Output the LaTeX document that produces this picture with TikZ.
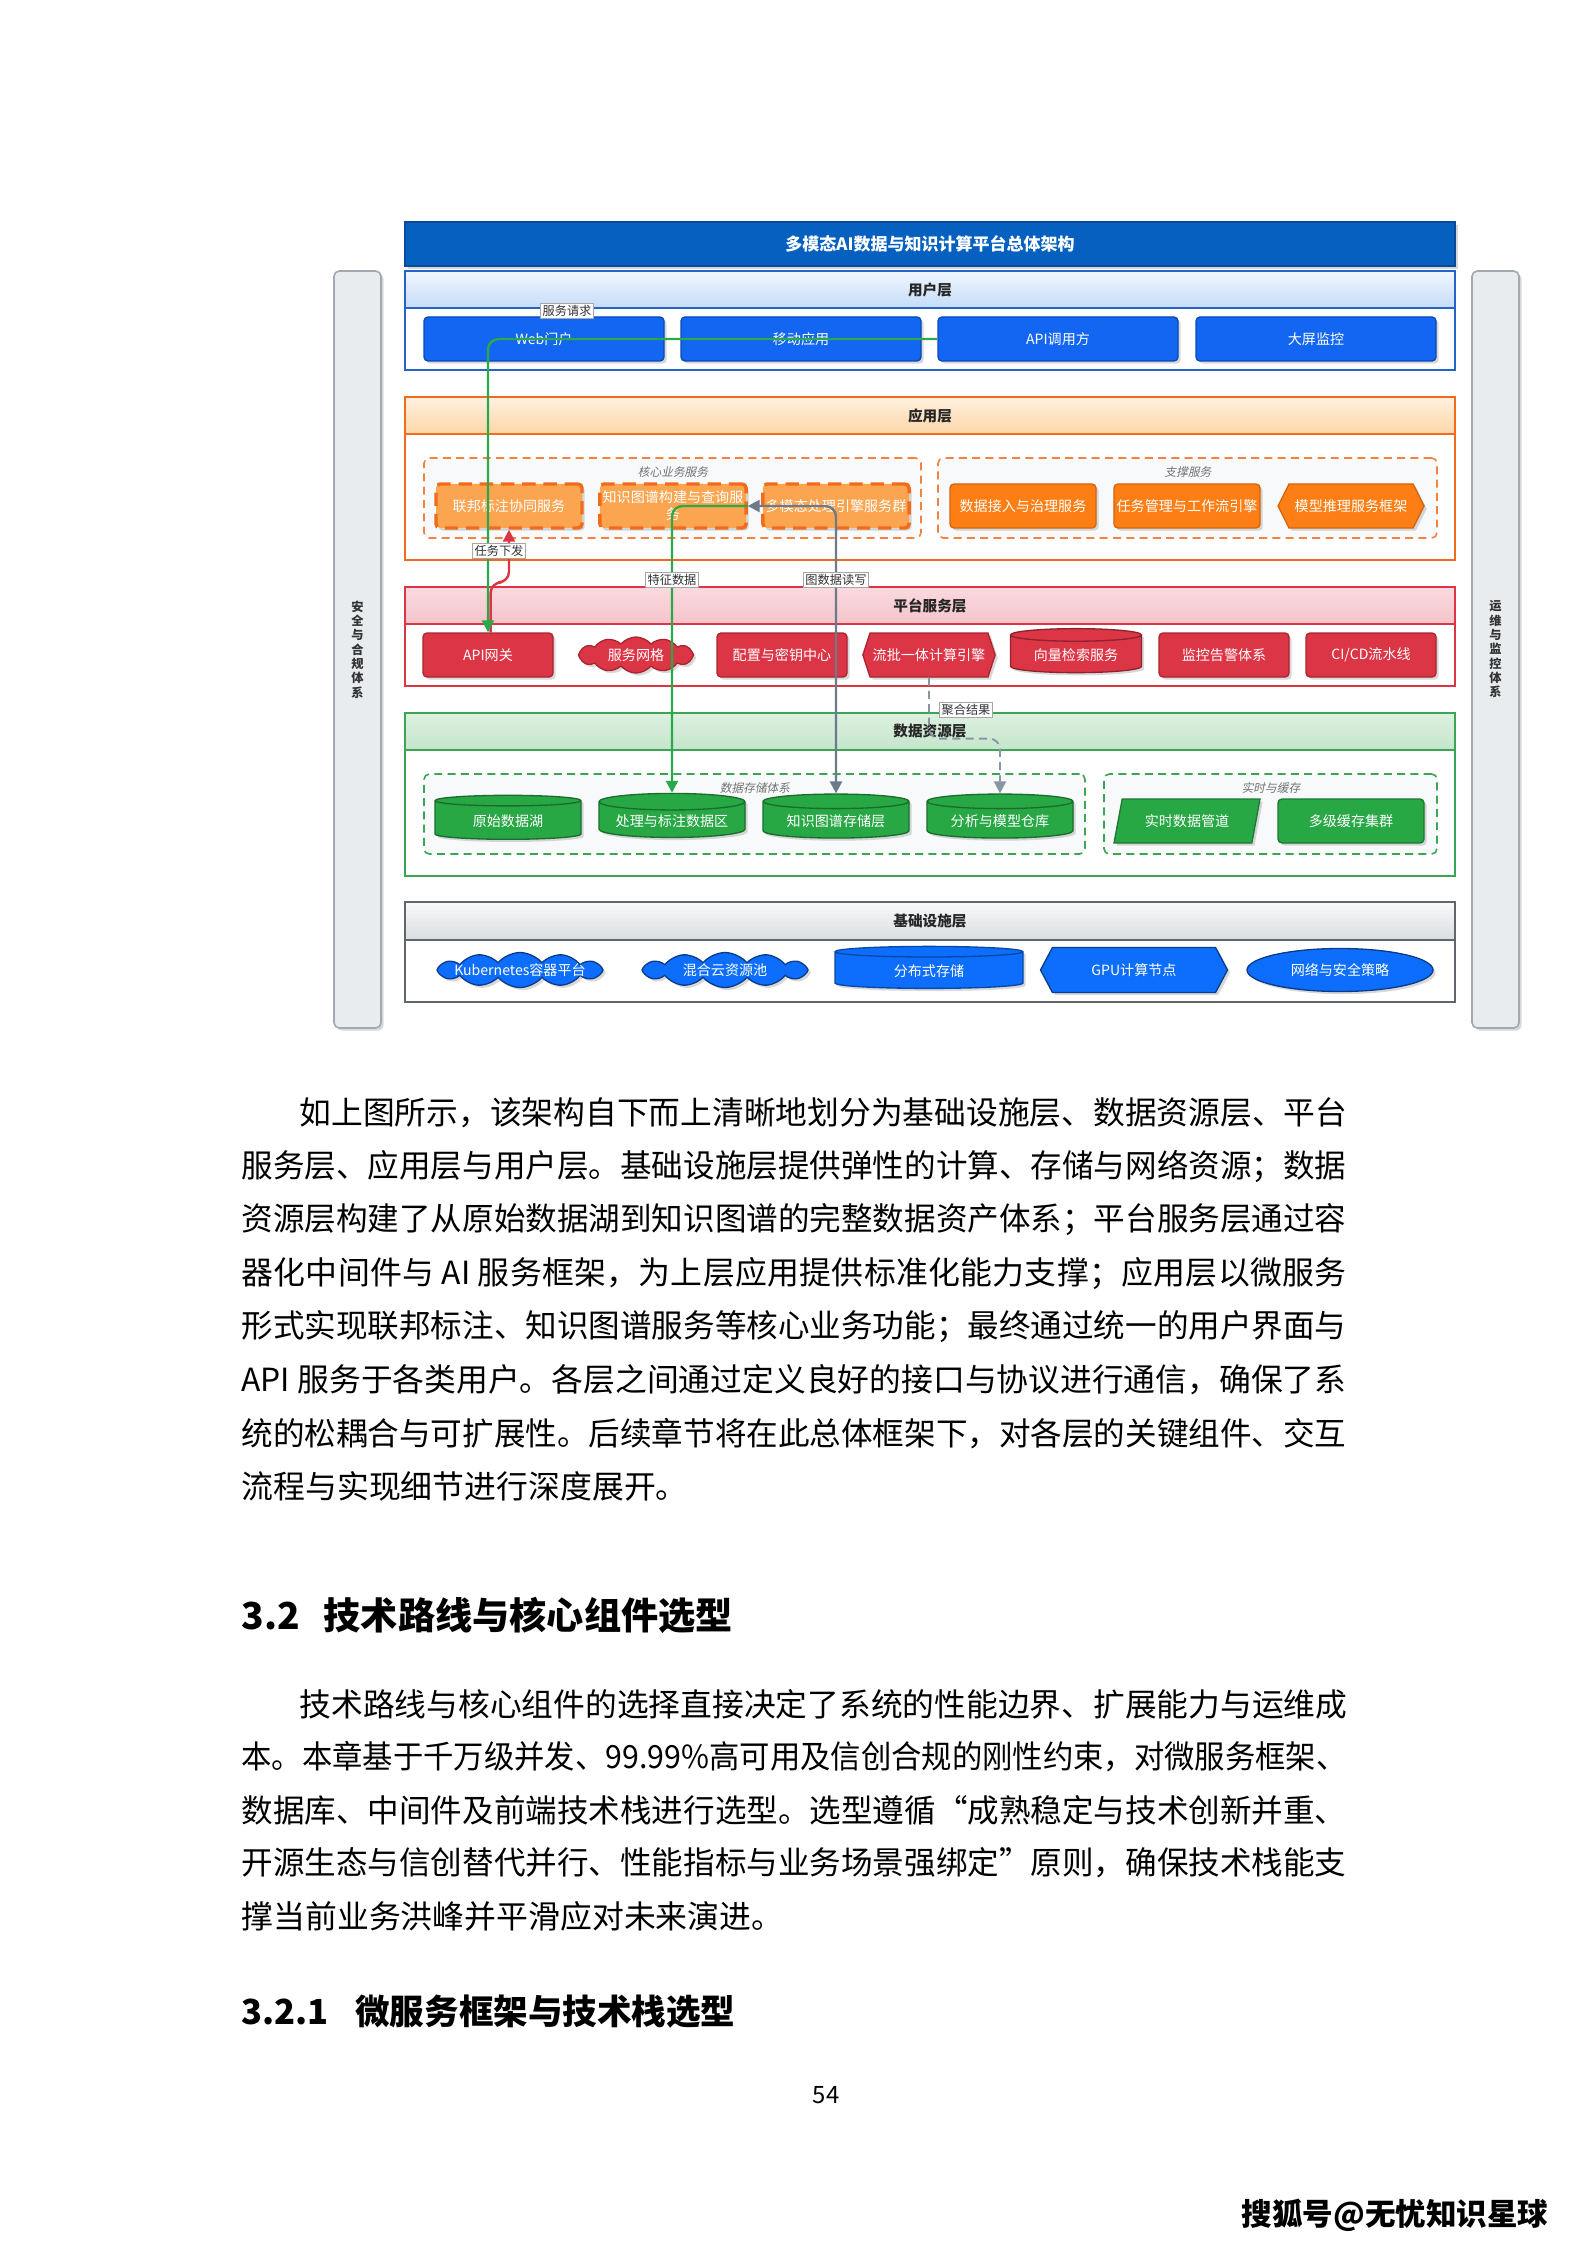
\documentclass[tikz,border=0pt]{standalone}
\usepackage{fontspec}
\setmainfont{Noto Sans CJK SC}
\newfontfamily\grpfont[FakeSlant=0.2]{Noto Sans CJK SC}
\usepackage{xcolor}
\usepackage{graphicx}
\usetikzlibrary{arrows.meta,positioning,shapes.geometric,shapes.symbols,shadows,calc}

\definecolor{archNavy}{HTML}{0560C0}
\definecolor{archNavyDk}{HTML}{0B4A96}
\definecolor{userTop}{HTML}{EFF6FF}
\definecolor{userBot}{HTML}{C6DCF8}
\definecolor{userLine}{HTML}{2563C7}
\definecolor{userBtn}{HTML}{1266F1}
\definecolor{userBtnDk}{HTML}{0A4AB8}
\definecolor{appTop}{HTML}{FFF1E0}
\definecolor{appBot}{HTML}{FDD6A8}
\definecolor{appLine}{HTML}{F26B1D}
\definecolor{appCore}{HTML}{FBA550}
\definecolor{appSup}{HTML}{FD7E14}
\definecolor{appSupDk}{HTML}{D5640C}
\definecolor{platTop}{HTML}{FADADF}
\definecolor{platBot}{HTML}{F4C4CA}
\definecolor{platRed}{HTML}{DC3545}
\definecolor{platRedDk}{HTML}{A82530}
\definecolor{dataTop}{HTML}{DDF1E1}
\definecolor{dataBot}{HTML}{C4E5CB}
\definecolor{dataLine}{HTML}{3AA655}
\definecolor{dataGreen}{HTML}{28A745}
\definecolor{dataGreenDk}{HTML}{1C7A33}
\definecolor{infraTop}{HTML}{F8F9FA}
\definecolor{infraBot}{HTML}{DADDE1}
\definecolor{infraLine}{HTML}{5F666D}
\definecolor{infraBlue}{HTML}{0D6EFD}
\definecolor{infraBlueDk}{HTML}{0A3C8C}
\definecolor{sideFill}{HTML}{E9ECEF}
\definecolor{sideLine}{HTML}{A3A9B0}
\definecolor{grpFill}{HTML}{F8F9FA}
\definecolor{flowGreen}{HTML}{2BA84A}
\definecolor{flowRed}{HTML}{DC3545}
\definecolor{flowGray}{HTML}{6C7A89}

% justified text lines
\newlength\linew \setlength\linew{416pt}
\newlength\linewi \setlength\linewi{394.5pt}
\newsavebox\jbox
\def\jfirst#1{#1\jrest}
\def\jrest#1{\ifx\relax#1\else\hfil#1\expandafter\jrest\fi}
\newcommand\jline[2]{\sbox\jbox{#2}%
  \ifdim\wd\jbox>#1\relax\resizebox{#1}{\height}{\usebox\jbox}%
  \else\makebox[#1][s]{\jfirst#2\relax}\fi}

\begin{document}
\begin{tikzpicture}[
  x=0.3765pt, y=-0.3765pt,
  sz/.style args={#1x#2}{minimum width=#1*0.3765pt, minimum height=#2*0.3765pt},
  lbl/.style={font=\fontsize{5.3pt}{6.4pt}\selectfont, text=white, inner sep=1pt, align=center},
  shade/.style={drop shadow={shadow xshift=1pt, shadow yshift=-1pt, opacity=0.3}},
  titlebar/.style={rectangle, fill=archNavy, draw=archNavyDk, line width=0.6pt, sz=1050x44, font=\fontsize{6.4pt}{7.5pt}\selectfont\bfseries, text=white, shade},
  layerhdr/.style={rectangle, inner sep=0pt, line width=0.6pt, font=\fontsize{5.5pt}{6.5pt}\selectfont\bfseries, text=black!85},
  layerbody/.style={rectangle, inner sep=0pt, line width=0.6pt, fill=white},
  grp/.style={rectangle, rounded corners=2pt, fill=grpFill, dash pattern=on 3pt off 2pt, line width=0.6pt},
  grplbl/.style={font=\grpfont\fontsize{4.4pt}{5pt}\selectfont, text=black!55, inner sep=0.5pt},
  sidebar/.style={rectangle, rounded corners=2pt, fill=sideFill, draw=sideLine, line width=0.6pt, sz=47x757, align=center, font=\fontsize{4.6pt}{5.4pt}\selectfont\bfseries, text=black!80, shade},
  userbtn/.style={lbl, rectangle, rounded corners=1.5pt, fill=userBtn, draw=userBtnDk, line width=0.5pt, sz=240x44, shade},
  corebox/.style={lbl, rectangle, rounded corners=1.5pt, fill=appCore, draw=appLine, dash pattern=on 5pt off 3pt, line width=1.3pt, sz=146x44, shade},
  supbox/.style={lbl, rectangle, rounded corners=1.5pt, fill=appSup, draw=appSupDk, line width=0.5pt, sz=146x44, shade},
  platbox/.style={lbl, rectangle, rounded corners=1.5pt, fill=platRed, draw=platRedDk, line width=0.5pt, sz=130x44, shade},
  databox/.style={lbl, rectangle, rounded corners=1.5pt, fill=dataGreen, draw=dataGreenDk, line width=0.5pt, sz=146x44, shade},
  dbcyl/.style={lbl, cylinder, shape border rotate=90, aspect=0.14, fill=#1, draw=#1!65!black, line width=0.5pt, shade},
  hexsh/.style={lbl, signal, signal to=west and east, line width=0.5pt, shade},
  cloudsh/.style={cloud, cloud puffs=12, cloud puff arc=100, cloud ignores aspect, inner sep=0pt, line width=0.5pt, shade},
  cloudlbl/.style={label={[lbl]center:#1}},
  flowline/.style={line width=0.9pt, rounded corners=4pt, -{Triangle[length=4.5pt,width=4.5pt]}},
  edgelbl/.style={fill=white, draw=black!35, line width=0.3pt, inner sep=0.8pt, font=\fontsize{4.6pt}{5.2pt}\selectfont, text=black!80},
  bodytxt/.style={anchor=west, inner sep=0pt, font=\fontsize{12pt}{16pt}\selectfont}
]

\fill[white] (0,0) rectangle (1587,2245);
\useasboundingbox (0,0) rectangle (1587,2245);

% Side columns
\node[sidebar] (secBar) at (357.5,649.5) {安\\全\\与\\合\\规\\体\\系};
\node[sidebar] (opsBar) at (1495.5,649.5) {运\\维\\与\\监\\控\\体\\系};

% Title
\node[titlebar] (title) at (930,244) {多模态AI数据与知识计算平台总体架构};

% Layers
\node[layerbody, draw=userLine, sz=1050x62] (userBody) at (930,339) {};
\node[layerhdr, top color=userTop, bottom color=userBot, draw=userLine, sz=1050x37] (userHdr) at (930,289.5) {用户层};
\node[layerbody, draw=appLine, sz=1050x126] (appBody) at (930,497) {};
\node[layerhdr, top color=appTop, bottom color=appBot, draw=appLine, sz=1050x37] (appHdr) at (930,415.5) {应用层};
\node[layerbody, draw=platRed, sz=1050x62] (platBody) at (930,655) {};
\node[layerhdr, top color=platTop, bottom color=platBot, draw=platRed, sz=1050x37] (platHdr) at (930,605.5) {平台服务层};
\node[layerbody, draw=dataLine, sz=1050x126] (dataBody) at (930,813) {};
\node[layerhdr, top color=dataTop, bottom color=dataBot, draw=dataLine, sz=1050x37] (dataHdr) at (930,731.5) {数据资源层};
\node[layerbody, draw=infraLine, sz=1050x62] (infraBody) at (930,971) {};
\node[layerhdr, top color=infraTop, bottom color=infraBot, draw=infraLine, sz=1050x38] (infraHdr) at (930,921) {基础设施层};

% Groups
\node[grp, draw=appLine!85, sz=497x80] (coreGrp) at (672.5,498) {};
\node[grp, draw=appLine!85, sz=499x80] (supGrp) at (1187.5,498) {};
\node[grp, draw=dataLine, sz=661x80] (storeGrp) at (754.5,814) {};
\node[grp, draw=dataLine, sz=333x80] (rtGrp) at (1270.5,814) {};
\node[grplbl] (coreLbl) at (673,472) {核心业务服务};
\node[grplbl] (supLbl) at (1188,472) {支撑服务};
\node[grplbl] (storeLbl) at (755,788) {数据存储体系};
\node[grplbl] (rtLbl) at (1271,788) {实时与缓存};

% User layer
\node[userbtn] (webPortal) at (544,339) {Web门户};
\node[userbtn] (mobileApp) at (801,339) {移动应用};
\node[userbtn] (apiCaller) at (1058,339) {API调用方};
\node[userbtn] (bigScreen) at (1316,339) {大屏监控};

% Application layer
\node[corebox] (fedAnno) at (509,506) {联邦标注协同服务};
\node[corebox] (kgBuild) at (673,506) {知识图谱构建与查询服\\务};
\node[corebox] (mmEngine) at (836,506) {多模态处理引擎服务群};
\node[supbox] (dataIngest) at (1023,506) {数据接入与治理服务};
\node[supbox] (taskFlow) at (1187,506) {任务管理与工作流引擎};
\node[hexsh, signal pointer angle=127, fill=appSup, draw=appSupDk, sz=146x44] (inferFw) at (1351,506) {模型推理服务框架};

% Platform layer
\node[platbox] (apiGw) at (488,655) {API网关};
\node[cloudsh, fill=platRed, draw=platRedDk, sz=115x36, cloudlbl=服务网格] (svcMesh) at (636,655) {};
\node[platbox] (cfgCenter) at (782,655) {配置与密钥中心};
\node[hexsh, signal pointer angle=144, fill=platRed, draw=platRedDk, sz=130x44] (streamEng) at (929,655) {流批一体计算引擎};
\node[dbcyl=platRed, sz=131x44] (vecSearch) at (1076,655) {向量检索服务};
\node[platbox] (monAlert) at (1224,655) {监控告警体系};
\node[platbox] (cicd) at (1371,655) {CI/CD流水线};

% Data layer
\node[dbcyl=dataGreen, sz=146x44] (rawLake) at (508,821) {原始数据湖};
\node[dbcyl=dataGreen, sz=146x44] (procZone) at (672,821) {处理与标注数据区};
\node[dbcyl=dataGreen, sz=146x44] (kgStore) at (836,821) {知识图谱存储层};
\node[dbcyl=dataGreen, sz=146x44] (anaStore) at (1000,821) {分析与模型仓库};
\node[lbl, trapezium, trapezium left angle=66, trapezium right angle=114, trapezium stretches body, fill=dataGreen, draw=dataGreenDk, line width=0.5pt, sz=146x44, shade] (rtPipe) at (1187,821) {实时数据管道};
\node[databox] (cacheCl) at (1351,821) {多级缓存集群};

% Infrastructure layer
\node[cloudsh, fill=infraBlue, draw=infraBlueDk, sz=166x35, cloudlbl=Kubernetes容器平台] (k8s) at (520,970) {};
\node[cloudsh, fill=infraBlue, draw=infraBlueDk, sz=166x35, cloudlbl=混合云资源池] (hybridPool) at (725,970) {};
\node[dbcyl=infraBlue, sz=188x42] (dfs) at (929,971) {分布式存储};
\node[hexsh, signal pointer angle=124, fill=infraBlue, draw=infraBlueDk, sz=187x45] (gpuNode) at (1134,970) {GPU计算节点};
\node[lbl, ellipse, fill=infraBlue, draw=infraBlueDk, line width=0.5pt, sz=186x43, shade] (netSec) at (1340,970) {网络与安全策略};

% Flows
\draw[flowline, flowRed] ([xshift=1pt]apiGw.north) -- ++(0,-50) -| (fedAnno.south);
\draw[flowline, flowGreen] (apiCaller.west) -| (apiGw.north);
\draw[flowline, flowGray, {Triangle[length=4.5pt,width=4.5pt]}-{Triangle[length=4.5pt,width=4.5pt]}] (kgBuild.east) -| (kgStore.north);
\draw[flowline, flowGreen] (kgBuild.east) -| (procZone.north);
\draw[flowline, flowGray!80, dash pattern=on 3pt off 2pt, line width=0.7pt] (streamEng.south) -- ++(0,61) -| (anaStore.north);

% Flow labels
\node[edgelbl] (reqLbl) at (567,311) {服务请求};
\node[edgelbl] (taskLbl) at (499,551) {任务下发};
\node[edgelbl] (featLbl) at (672,580) {特征数据};
\node[edgelbl] (graphLbl) at (836,580) {图数据读写};
\node[edgelbl] (aggLbl) at (966,710) {聚合结果};

% Page text
\node[bodytxt] (p1a) at (299,1113) {\jline{\linewi}{如上图所示，该架构自下而上清晰地划分为基础设施层、数据资源层、平台}};
\node[bodytxt] (p1b) at (241,1166.4) {\jline{\linew}{服务层、应用层与用户层。基础设施层提供弹性的计算、存储与网络资源；数据}};
\node[bodytxt] (p1c) at (241,1219.8) {\jline{\linew}{资源层构建了从原始数据湖到知识图谱的完整数据资产体系；平台服务层通过容}};
\node[bodytxt] (p1d) at (241,1273.2) {\jline{\linew}{器化中间件与{\ AI\ }服务框架，为上层应用提供标准化能力支撑；应用层以微服务}};
\node[bodytxt] (p1e) at (241,1326.6) {\jline{\linew}{形式实现联邦标注、知识图谱服务等核心业务功能；最终通过统一的用户界面与}};
\node[bodytxt] (p1f) at (241,1380) {\jline{\linew}{{API\ }服务于各类用户。各层之间通过定义良好的接口与协议进行通信，确保了系}};
\node[bodytxt] (p1g) at (241,1433.4) {\jline{\linew}{统的松耦合与可扩展性。后续章节将在此总体框架下，对各层的关键组件、交互}};
\node[bodytxt] (p1h) at (241,1486.8) {流程与实现细节进行深度展开。};

\node[bodytxt, font=\fontsize{14pt}{17pt}\selectfont\bfseries] (sec32) at (241,1615) {3.2\hspace{9pt}技术路线与核心组件选型};

\node[bodytxt] (p2a) at (299,1704) {\jline{\linewi}{技术路线与核心组件的选择直接决定了系统的性能边界、扩展能力与运维成}};
\node[bodytxt] (p2b) at (241,1757) {\jline{\linew}{本。本章基于千万级并发、{99.99\%}高可用及信创合规的刚性约束，对微服务框架、}};
\node[bodytxt] (p2c) at (241,1810) {\jline{\linew}{数据库、中间件及前端技术栈进行选型。选型遵循“成熟稳定与技术创新并重、}};
\node[bodytxt] (p2d) at (241,1863) {\jline{\linew}{开源生态与信创替代并行、性能指标与业务场景强绑定”原则，确保技术栈能支}};
\node[bodytxt] (p2e) at (241,1916) {撑当前业务洪峰并平滑应对未来演进。};

\node[bodytxt, font=\fontsize{13pt}{16pt}\selectfont\bfseries] (sec321) at (241,2012) {3.2.1\hspace{10pt}微服务框架与技术栈选型};

\node[font=\fontsize{9pt}{11pt}\selectfont, inner sep=0pt] (pageNo) at (826,2095) {54};
\node[font=\fontsize{11.5pt}{13pt}\selectfont\bfseries, inner sep=0pt] (srcMark) at (1395,2215) {搜狐号@无忧知识星球};

\end{tikzpicture}
\end{document}
